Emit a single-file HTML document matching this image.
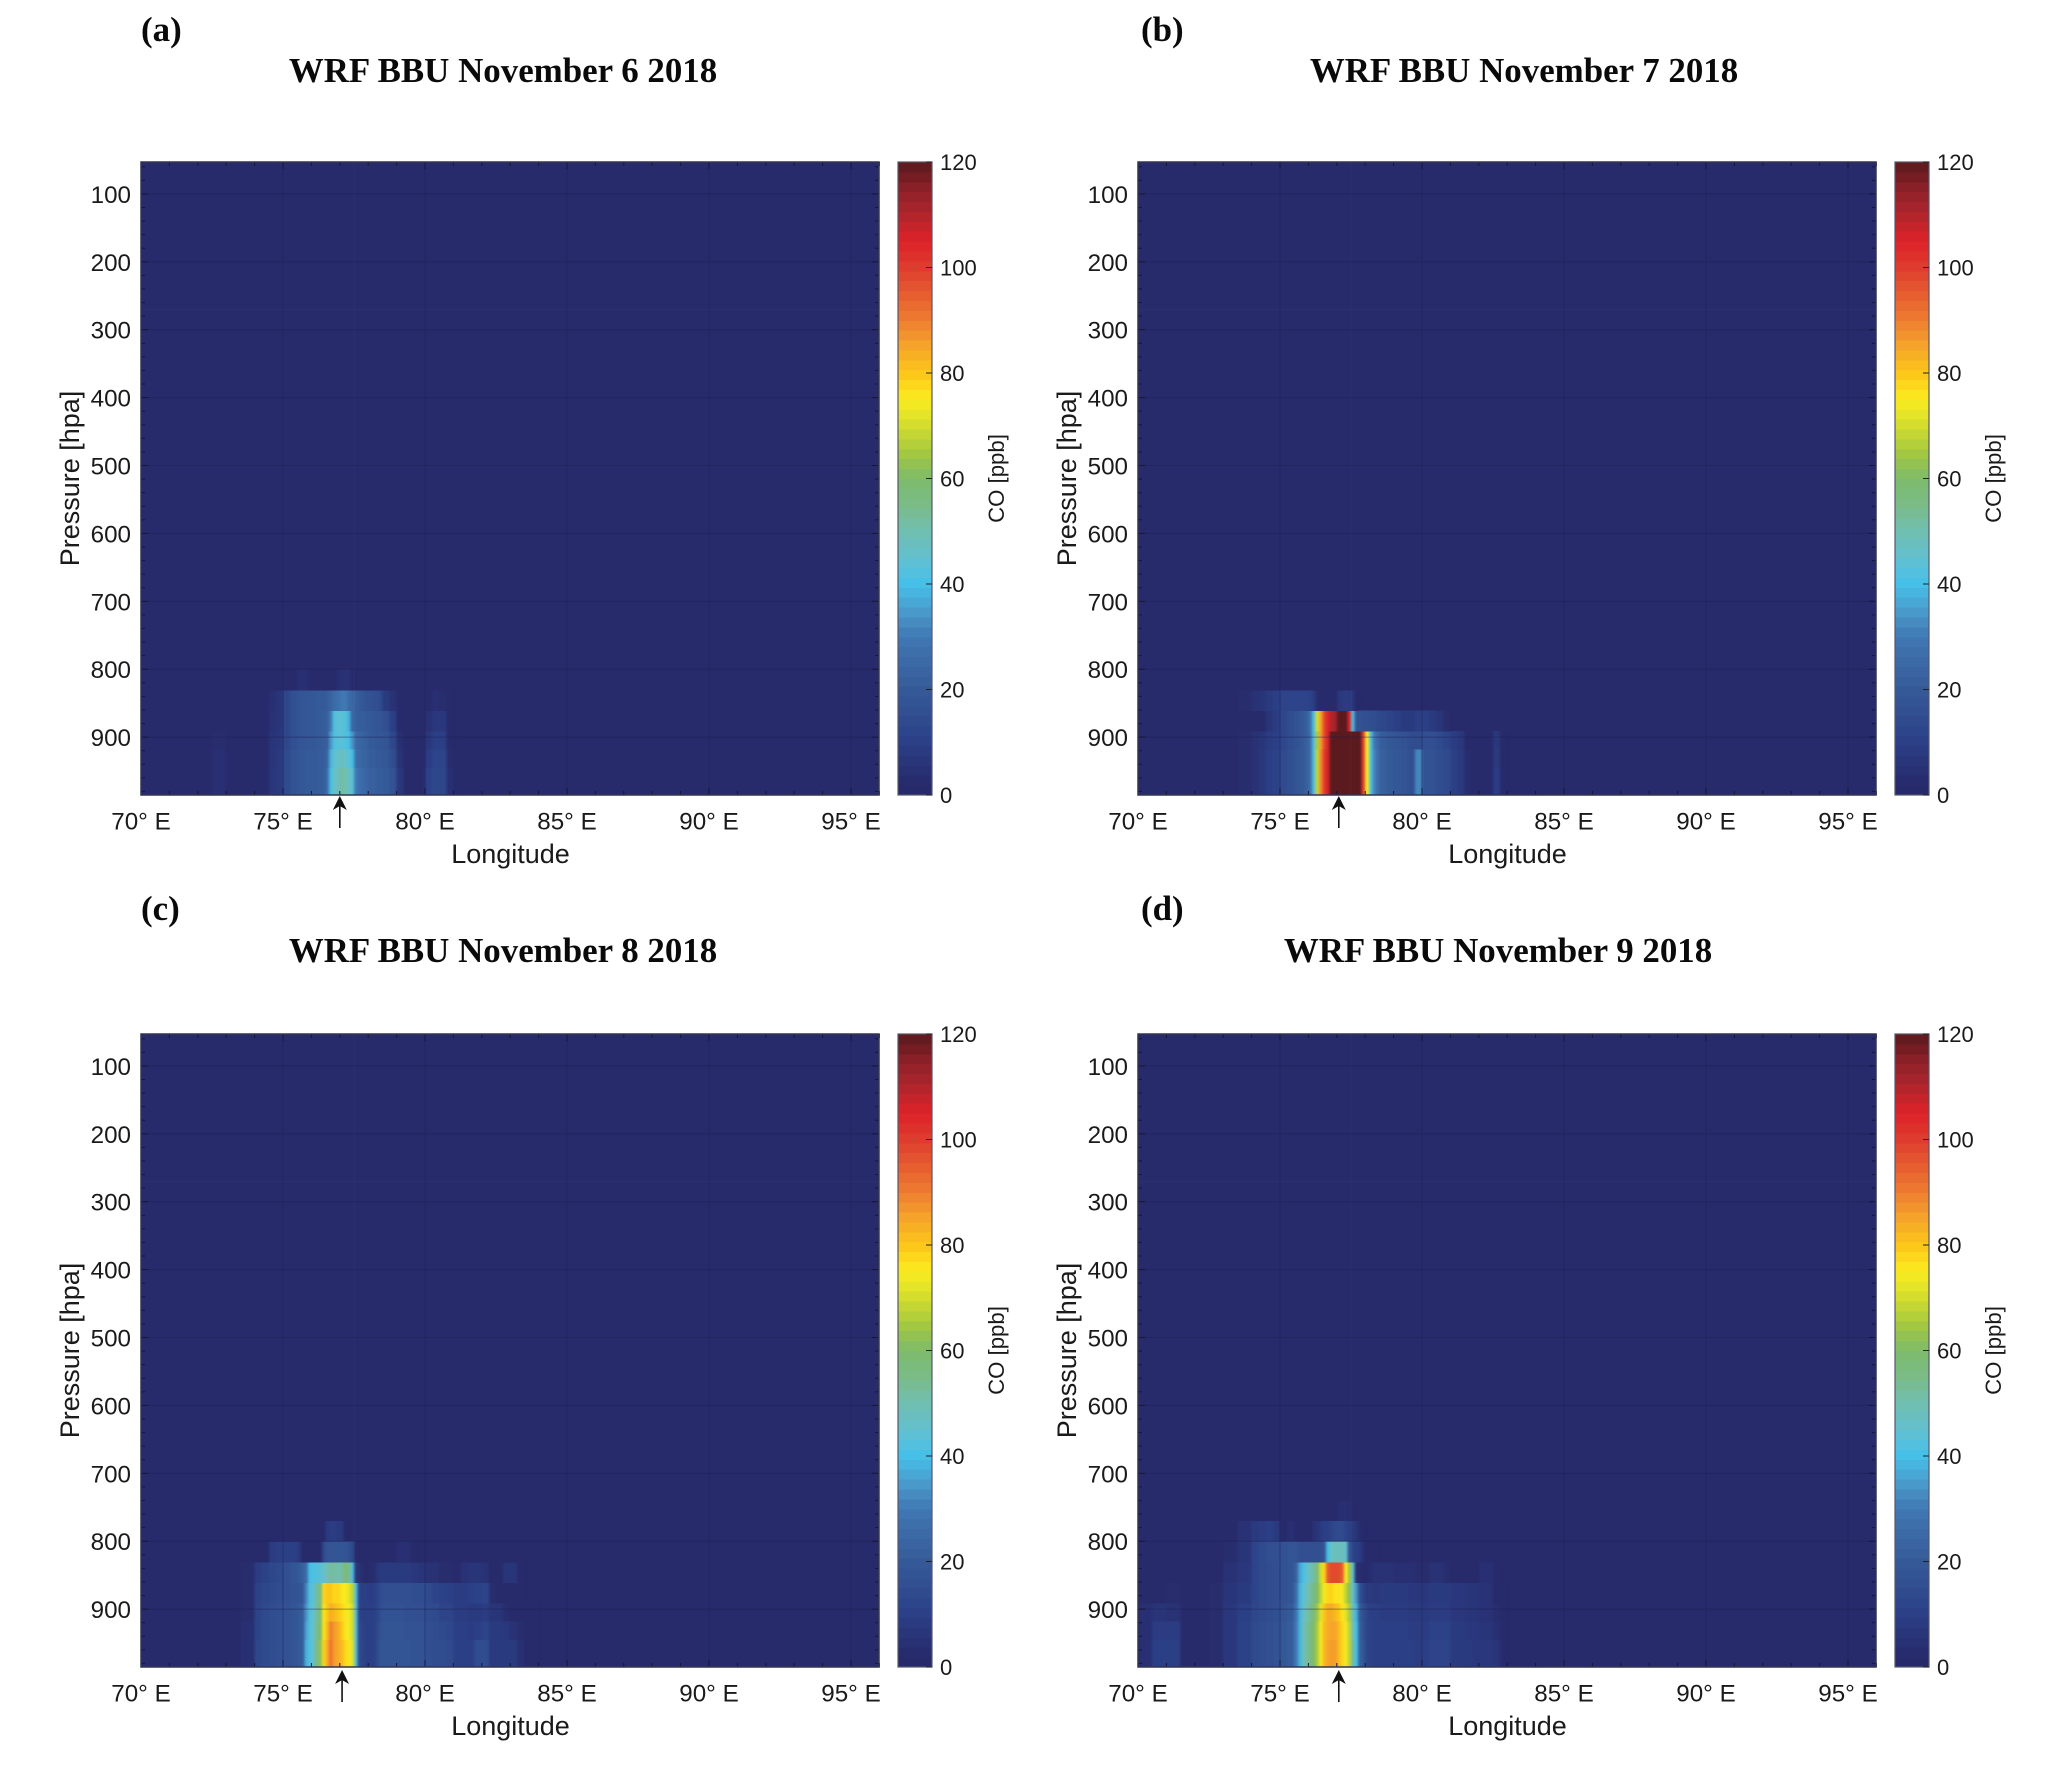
<!DOCTYPE html>
<html lang="en">
<head>
<meta charset="utf-8">
<title>WRF BBU CO vertical cross sections, November 2018</title>
<style>
html,body{margin:0;padding:0;background:#fff;}
svg{display:block;}
text{font-family:"Liberation Sans",sans-serif;fill:#1a1a1a;}
.serif{font-family:"Liberation Serif",serif;font-weight:bold;fill:#0a0a0a;font-size:34.9px;}
</style>
</head>
<body>
<svg id="figure" xmlns="http://www.w3.org/2000/svg" width="2067" height="1770" viewBox="0 0 2067 1770">
<defs>
<filter id="hsmooth" filterUnits="userSpaceOnUse" x="0" y="0" width="2067" height="1770" color-interpolation-filters="sRGB"><feGaussianBlur stdDeviation="1.2 0"/></filter>
</defs>
</svg>
<script>
const xTicks = [70, 75, 80, 85, 90, 95];
const yTicks = [100, 200, 300, 400, 500, 600, 700, 800, 900];
const cbarTicks = [0, 20, 40, 60, 80, 100, 120];
const pressureEdges = [987, 945, 918, 891, 861, 831, 800, 770, 741];
const lonEdges = [70,70.5,71,71.5,72,72.5,73,73.5,
  74,74.25,74.5,74.75,75,75.25,
  75.5,75.625,75.75,75.875,76,76.125,76.25,76.375,76.5,76.625,76.75,76.875,77,77.125,77.25,77.375,77.5,77.625,77.75,77.875,78,78.125,78.25,78.375,
  78.5,78.75,79,79.25,79.5,79.75,80,80.25,80.5,80.75,81,81.25,81.5,81.75,82,82.25,82.5,82.75,83,83.25,83.5,83.75,84];
const colorStops = [[0,"#26296a"],[2,"#272a6b"],[10,"#2b3f86"],[20,"#355a98"],[30,"#4078b3"],[35,"#4a9ccb"],[40,"#45c0e8"],[45,"#62c0d0"],[50,"#70bfb0"],[55,"#7abb88"],[60,"#7cbb6a"],[65,"#a5c840"],[70,"#d2dd2e"],[75,"#fbec20"],[80,"#fcc618"],[85,"#f5a52a"],[90,"#ee7d30"],[100,"#df3d2e"],[105,"#dd2229"],[110,"#b1252b"],[115,"#8c2029"],[120,"#5a1a1e"]];

const panelLetters = ["(a)", "(b)", "(c)", "(d)"];
const panelDays = [6, 7, 8, 9];
const sourceLon = [77.0, 77.07, 77.08, 77.07];

const coNov6 = [
 [1,1,1,1,1,4,1,1, 1,1,7,8,14,17, 19,19,20,20,20,20,21,21,26,40,47,48,52,50,47,44,30,27,25,24,22,22,21,21, 20,17,7,2,1,1,11,13,13,4],
 [1,1,1,1,1,4,1,1, 1,1,6,8,14,17, 19,19,20,20,20,20,21,21,24,38,45,46,48,46,44,40,27,25,24,23,21,21,20,20, 19,15,5,1,1,1,9,12,12,3],
 [1,1,1,1,1,3,1,1, 1,1,6,7,13,16, 18,18,19,19,19,20,20,21,22,34,42,43,44,42,40,34,25,24,23,22,20,20,19,19, 18,13,4,1,1,1,7,10,10,2],
 [1,1,1,1,1,1,1,1, 1,1,5,6,13,16, 18,18,19,19,19,20,20,21,22,30,42,44,44,42,38,24,22,21,21,20,20,19,18,18, 16,10,2,1,1,1,5,7,7,1],
 [1,1,1,1,1,1,1,1, 1,1,4,6,13,16, 18,18,19,19,19,20,20,20,21,23,26,27,30,30,26,24,22,20,19,17,17,16,16,14, 8,5,1,1,1,1,1,4,3,1],
 [1,1,1,1,1,1,1,1, 1,1,1,1,1,1, 4,4,4,1,1,1,1,1,1,1,1,4,5,5,5,1]
];
const coNov7 = [
 [1,1,1,1,1,1,1,3, 5,7,10,11,14,16, 18,19,20,22,26,42,68,88,100,106,120,120,120,120,120,120,120,120,120,100,75,42,32,26, 22,20,19,18,16,32,17,17,15,14,10,8,3,1,1,1,9,2],
 [1,1,1,1,1,1,1,3, 5,7,10,11,14,16, 18,19,20,22,26,42,68,88,100,106,120,120,120,120,120,120,120,120,120,100,75,42,32,26, 22,20,19,18,16,32,17,17,15,14,10,8,3,1,1,1,8,2],
 [1,1,1,1,1,1,1,3, 5,6,9,10,13,15, 17,18,20,22,26,42,66,86,98,105,120,120,120,120,120,120,120,120,120,100,75,42,30,25, 21,19,18,17,15,15,16,16,14,12,9,7,2,1,1,1,7,1],
 [1,1,1,1,1,1,1,2, 1,1,6,9,13,15, 17,18,20,22,28,42,70,85,98,105,110,112,120,120,120,105,42,18,17,16,16,15,15,14, 13,12,10,8,8,10,10,8,6,3],
 [1,1,1,1,1,1,1,3, 5,6,8,10,12,12, 12,12,12,12,11,9,3,1,1,1,1,1,7,8,9,8,7,1]
];
const coNov8 = [
 [1,1,1,1,1,1,1,4, 13,14,15,16,17,18, 20,21,38,42,46,55,62,78,84,92,86,84,82,78,76,72,45,14,12,10,10,10,14,18, 18,18,18,18,17,17,16,15,15,14,10,10,10,15,15,8,8,8,8,4,2,1],
 [1,1,1,1,1,1,1,4, 12,14,15,16,17,18, 20,21,36,42,46,54,60,76,82,90,86,84,80,76,74,70,44,13,11,10,10,10,13,17, 18,18,18,17,17,17,16,15,14,13,10,10,9,10,12,8,8,7,5,3,2,1],
 [1,1,1,1,1,1,1,3, 12,14,15,16,17,18, 20,21,34,42,46,52,58,76,80,84,82,80,78,76,74,70,44,12,10,10,10,10,12,16, 17,17,17,16,16,16,15,14,12,12,9,9,8,8,9,6,6,3,2,2,1,1],
 [1,1,1,1,1,1,1,3, 11,13,14,15,16,17, 18,19,32,42,44,52,56,78,80,80,78,78,76,75,72,68,42,11,10,10,9,10,11,15, 16,16,16,16,15,15,14,12,11,10,9,9,10,11,12,3,2,1,1,1],
 [1,1,1,1,1,1,1,3, 9,11,13,14,16,18, 20,22,26,40,42,42,44,46,50,52,52,50,52,58,55,42,8,5,3,2,3,3,6,8, 8,8,8,8,7,6,5,5,3,3,2,5,6,6,5,2,2,6,6,1],
 [1,1,1,1,1,1,1,1, 1,1,9,10,10,10, 8,1,1,1,1,1,1,14,18,18,18,18,18,18,16,14,2,1,1,1,1,1,1,1, 1,1,4,4,1],
 [1,1,1,1,1,1,1,1, 1,1,1,1,1,1, 1,1,1,1,1,1,1,1,8,9,9,8,8,1]
];
const coNov9 = [
 [4,10,10,2,1,3,7,11, 14,15,16,17,19,21, 30,38,48,52,56,60,66,74,82,85,86,86,82,78,74,68,52,40,22,18,12,11,10,10, 10,10,10,10,10,9,10,12,12,12,8,8,8,7,7,7,6,1],
 [4,9,9,2,1,3,7,11, 14,15,16,17,19,21, 30,38,48,52,56,60,66,74,82,84,85,85,82,78,74,68,50,40,22,17,12,11,10,10, 10,10,10,10,9,9,9,11,11,11,8,8,7,7,6,6,4,1],
 [4,6,5,2,1,3,7,10, 13,14,15,16,18,20, 28,38,46,50,54,58,64,72,80,84,84,82,80,76,72,66,48,38,20,16,12,10,10,10, 9,9,9,9,8,8,8,9,9,9,7,7,6,6,5,5,3,1],
 [1,1,3,1,1,3,6,8, 12,14,15,16,17,18, 26,38,44,48,52,56,60,68,74,78,78,76,76,74,68,62,46,34,16,12,8,8,7,7, 8,8,8,8,7,7,7,8,8,8,7,7,6,6,5,5,2,1],
 [1,1,1,1,1,2,5,7, 12,14,15,16,17,18, 22,36,40,46,48,52,58,70,78,95,98,98,98,95,75,65,45,5,3,2,2,4,5,5, 5,5,4,4,4,3,3,5,5,3,1,1,1,1,4,4,1],
 [1,1,1,1,1,1,3,6, 12,14,16,16,17,18, 18,16,16,16,16,16,16,16,18,40,47,48,48,48,46,18,12,10,9,4,1,1,1,1],
 [1,1,1,1,1,1,1,5, 8,9,10,8,2,4, 1,1,1,1,1,5,6,8,10,10,12,14,14,14,12,10,8,6,3,1],
 [1,1,1,1,1,1,1,1, 1,1,1,1,1,1, 1,1,1,1,1,1,1,1,1,1,1,1,3,4,4,3,1]
];

const NS = "http://www.w3.org/2000/svg";
const svg = document.getElementById("figure");
const pw = 738, ph = 633, lonMin = 70, pMin = 53, pxPerDeg = 28.4, pxPerHpa = 0.679, cbMax = 120;

function hexToRgb(h){ return [1,3,5].map(function(i){ return parseInt(h.substr(i,2),16); }); }
function colorOf(v){
  const c = Math.max(0, Math.min(cbMax, v));
  for (let i = 1; i < colorStops.length; i++){
    if (c <= colorStops[i][0]){
      const a = colorStops[i-1], b = colorStops[i];
      const t = (c - a[0]) / (b[0] - a[0]);
      const ca = hexToRgb(a[1]), cb = hexToRgb(b[1]);
      return "rgb(" + ca.map(function(u,k){ return Math.round(u + (cb[k]-u)*t); }).join(",") + ")";
    }
  }
  return colorStops[colorStops.length-1][1];
}
function mk(tag, attrs, parent, txt){
  const el = document.createElementNS(NS, tag);
  for (const k in attrs) el.setAttribute(k, attrs[k]);
  if (txt !== undefined) el.textContent = txt;
  (parent || svg).appendChild(el);
  return el;
}

function drawPanel(idx, grid, ox, oy){
  const xScale = function(lon){ return ox + (lon - lonMin) * pxPerDeg; };
  const yScale = function(p){ return oy + (p - pMin) * pxPerHpa; };
  const cbScale = function(v){ return oy + ph - (v / cbMax) * ph; };
  const cbX = ox + 757, cbW = 34;

  const g = mk("g", {}, svg);
  
  

  const letterX = [141, 1141, 141, 1141][idx];
  const letterY = [41, 41, 920, 920][idx];
  const letter = mk("text", {class:"serif", x: letterX, y: letterY}, g, panelLetters[idx]);
  
  

  const titleCx = [503, 1524, 503, 1498][idx];
  const titleY = [82, 82, 962, 962][idx];
  const title = mk("text", {class:"serif", x: titleCx, y: titleY, "text-anchor":"middle"}, g, "WRF BBU November " + panelDays[idx] + " 2018");
  
  

  const bg = mk("rect", {x: ox, y: oy, width: pw, height: ph, fill: colorOf(1)}, g);
  
  

  const clipId = "plot-clip-" + idx;
  const clip = mk("clipPath", {id: clipId}, g);
  mk("rect", {x: ox, y: oy, width: pw, height: ph}, clip);
  const clipWrap = mk("g", {"clip-path": "url(#" + clipId + ")"}, g);

  const cells = mk("g", {"shape-rendering":"crispEdges", filter: "url(#hsmooth)"}, clipWrap);
  
  
  grid.forEach(function(row, r){
    const yTop = yScale(pressureEdges[r+1]), yBot = yScale(pressureEdges[r]);
    row.forEach(function(v, c){
      if (c >= lonEdges.length - 1) return;
      const x0 = xScale(lonEdges[c]), x1 = xScale(lonEdges[c+1]);
      const cell = mk("rect", {x: x0, y: yTop, width: x1 - x0 + 0.4, height: yBot - yTop + 0.4, fill: colorOf(v)}, cells);
      
      
    });
  });

  const axes = mk("g", {}, g);
  
  

  mk("line", {x1: xScale(77.5), x2: xScale(77.5), y1: oy, y2: oy + ph, stroke: "#ffffff", "stroke-opacity": 0.03, "stroke-width": 1}, axes);
  mk("line", {x1: ox, x2: ox + pw, y1: yScale(270), y2: yScale(270), stroke: "#ffffff", "stroke-opacity": 0.03, "stroke-width": 1}, axes);

  xTicks.forEach(function(t){
    mk("line", {x1: xScale(t), x2: xScale(t), y1: oy, y2: oy + ph, stroke: "#1c1f55", "stroke-opacity": 0.45, "stroke-width": 1}, axes);
    const lab = mk("text", {x: xScale(t), y: oy + ph + 34.5, "text-anchor":"middle", "font-size": 24.2}, axes, t + "° E");
    
    
  });
  yTicks.forEach(function(t){
    mk("line", {x1: ox, x2: ox + pw, y1: yScale(t), y2: yScale(t), stroke: "#1c1f55", "stroke-opacity": 0.45, "stroke-width": 1}, axes);
    const lab = mk("text", {x: ox - 10, y: yScale(t) + 9, "text-anchor":"end", "font-size": 24.2}, axes, String(t));
    
    
  });
  for (let lon = 70; lon <= 96; lon++){
    const len = lon % 5 === 0 ? 7 : 4;
    mk("line", {x1: xScale(lon), x2: xScale(lon), y1: oy, y2: oy + len, stroke: "#15173a", "stroke-width": 1}, axes);
    mk("line", {x1: xScale(lon), x2: xScale(lon), y1: oy + ph, y2: oy + ph - len, stroke: "#15173a", "stroke-width": 1}, axes);
  }
  for (let p = 60; p <= 980; p += 20){
    const len = p % 100 === 0 ? 7 : 4;
    mk("line", {x1: ox, x2: ox + len, y1: yScale(p), y2: yScale(p), stroke: "#15173a", "stroke-width": 1}, axes);
    mk("line", {x1: ox + pw, x2: ox + pw - len, y1: yScale(p), y2: yScale(p), stroke: "#15173a", "stroke-width": 1}, axes);
  }
  mk("rect", {x: ox, y: oy, width: pw, height: ph, fill: "none", stroke: "#33354f", "stroke-width": 1.5}, axes);

  const xt = mk("text", {x: ox + 369.5, y: oy + ph + 67.8, "text-anchor":"middle", "font-size": 27}, g, "Longitude");
  
  
  const ty = oy + ph/2, tx = ox - 62;
  const yt = mk("text", {x: tx, y: ty, "text-anchor":"middle", "font-size": 27, transform: "rotate(-90 " + tx + " " + ty + ")"}, g, "Pressure [hpa]");
  
  

  const ax = xScale(sourceLon[idx]);
  const ay = oy + ph + (oy > 500 ? 3 : 1);
  const arrow = mk("g", {}, g);
  
  
  mk("line", {x1: ax, x2: ax, y1: ay + 8, y2: ay + 32, stroke: "#111", "stroke-width": 1.6}, arrow);
  mk("path", {d: "M" + ax + " " + ay + " L" + (ax + 7) + " " + (ay + 14) + " L" + ax + " " + (ay + 10) + " L" + (ax - 7) + " " + (ay + 14) + " Z", fill: "#111"}, arrow);

  const cb = mk("g", {}, g);
  
  
  const bands = mk("g", {"shape-rendering":"crispEdges"}, cb);
  const steps = 64;
  for (let i = 0; i < steps; i++){
    const lo = cbMax * i / steps, hi = cbMax * (i + 1) / steps;
    mk("rect", {x: cbX, y: cbScale(hi), width: cbW, height: cbScale(lo) - cbScale(hi) + 0.5, fill: colorOf((lo + hi) / 2)}, bands);
  }
  mk("rect", {x: cbX, y: oy, width: cbW, height: ph, fill: "none", stroke: "#55576a", "stroke-width": 1.2}, cb);
  cbarTicks.forEach(function(t){
    mk("line", {x1: cbX + cbW - 6, x2: cbX + cbW, y1: cbScale(t), y2: cbScale(t), stroke: "#222", "stroke-width": 1}, cb);
    const lab = mk("text", {x: cbX + cbW + 8, y: cbScale(t) + 8, "font-size": 22}, cb, String(t));
    
    
  });
  const cx = cbX + 106;
  const cbt = mk("text", {x: cx, y: ty, "text-anchor":"middle", "font-size": 22.2, transform: "rotate(-90 " + cx + " " + ty + ")"}, cb, "CO [ppb]");
  
  
}

drawPanel(0, coNov6, 141, 162);
drawPanel(1, coNov7, 1138, 162);
drawPanel(2, coNov8, 141, 1034);
drawPanel(3, coNov9, 1138, 1034);
</script>
</body>
</html>
